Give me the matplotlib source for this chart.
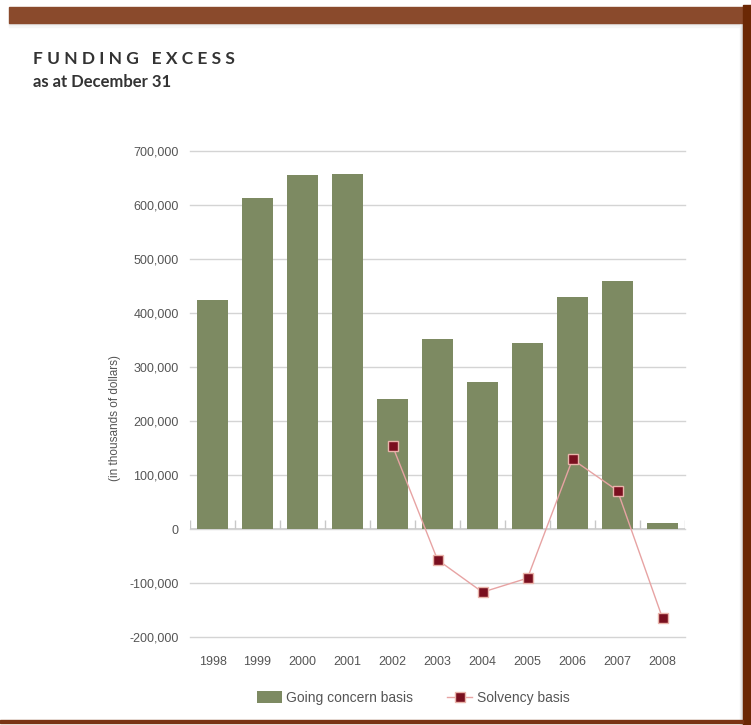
import matplotlib
matplotlib.use("Agg")
import matplotlib.pyplot as plt
from matplotlib.patches import Rectangle

# Funding excess data (thousands of dollars)
years = ["1998", "1999", "2000", "2001", "2002", "2003", "2004", "2005", "2006", "2007", "2008"]
going_concern = [424000, 613000, 655000, 658000, 240000, 352000, 272000, 344000, 430000, 459000, 11000]
solvency_years = ["2002", "2003", "2004", "2005", "2006", "2007", "2008"]
solvency = [154000, -57000, -117000, -91000, 129000, 71000, -165000]

bar_color = "#7d8a62"
line_color = "#e7a3a3"
marker_color = "#7a0f1f"
grid_color = "#d4d4d4"
text_color = "#555555"

fig = plt.figure(figsize=(7.51, 7.25), dpi=100)

# page frame: brown band on top, dark bar on the right, rule at the bottom
for i, c in enumerate(["#d8d8d8", "#e6e6e6", "#efefef", "#f6f6f6"]):
    fig.patches.append(Rectangle((9 / 751, 1 - (24 + i) / 725), 730 / 751, 1 / 725,
                                 transform=fig.transFigure, color=c, zorder=0))
fig.patches.append(Rectangle((9 / 751, 1 - 23 / 725), 734 / 751, 16 / 725,
                             transform=fig.transFigure, color="#8a4a2c", zorder=1))
for i, c in enumerate(["#f4f4f4", "#e8e8e8", "#d8d8d8"]):
    fig.patches.append(Rectangle(((740 + i) / 751, 0), 1 / 751, 1 - 24 / 725,
                                 transform=fig.transFigure, color=c, zorder=0))
fig.patches.append(Rectangle((743 / 751, 0), 8 / 751, 1 - 5 / 725,
                             transform=fig.transFigure, color="#6b2805", zorder=1))
fig.patches.append(Rectangle((0, 1 - 723 / 725), 743 / 751, 3 / 725,
                             transform=fig.transFigure, color="#7a3414", zorder=1))

fig.text(33 / 751, 1 - 64 / 725, "F U N D I N G   E X C E S S", fontsize=12.5,
         fontweight="bold", family="Lato", color="#333333")
fig.text(33 / 751, 1 - 87 / 725, "as at December 31", fontsize=12,
         fontweight="bold", family="Lato", color="#333333")

ax = fig.add_axes([190 / 751, 1 - 637 / 725, 495 / 751, 486 / 725])
x = list(range(len(years)))
xs = [years.index(y) for y in solvency_years]

ax.bar(x, going_concern, width=0.67, color=bar_color, zorder=2,
       label="Going concern basis")
ax.plot(xs, solvency, color=line_color, lw=1, marker="s", markersize=7,
        markerfacecolor=marker_color, markeredgecolor="#e9b4aa", markeredgewidth=1,
        zorder=3, label="Solvency basis")

ax.set_xlim(-0.5, len(years) - 0.5)
ax.set_ylim(-200000, 700000)
ax.set_yticks(range(-200000, 700001, 100000))
ax.yaxis.set_major_formatter(matplotlib.ticker.FuncFormatter(lambda v, p: f"{int(v):,}"))
ax.grid(axis="y", color=grid_color, lw=1, zorder=0)
for gl in ax.get_ygridlines():
    gl.set_clip_on(False)
ax.axhline(0, color="#c8c8c8", lw=1.2, zorder=1)
# category separators rising from the zero line
ax.vlines([i - 0.5 for i in range(len(years) + 1)], 0, 16000, color="#c8c8c8", lw=1, zorder=1)

ax.set_xticks(x)
ax.set_xticklabels(years)
for s in ax.spines.values():
    s.set_visible(False)
ax.tick_params(axis="both", length=0, labelsize=9, colors=text_color, labelfontfamily="Liberation Sans")
ax.tick_params(axis="x", pad=14)
ax.tick_params(axis="y", pad=8)

ax.set_ylabel("(in thousands of dollars)", fontsize=8.5, color=text_color, family="Liberation Sans")
ax.yaxis.set_label_coords(-0.14, 0.45)

handles, labels = ax.get_legend_handles_labels()
order = [labels.index("Going concern basis"), labels.index("Solvency basis")]
fig.legend([handles[i] for i in order], [labels[i] for i in order],
           loc="center", bbox_to_anchor=(413 / 751, 1 - 698 / 725), ncol=2, frameon=False,
           prop={"family": "Liberation Sans", "size": 10}, labelcolor=text_color,
           handlelength=1.8, handleheight=0.9, columnspacing=2.5, handletextpad=0.3)

fig.savefig("out.png", dpi=100, facecolor="white")
